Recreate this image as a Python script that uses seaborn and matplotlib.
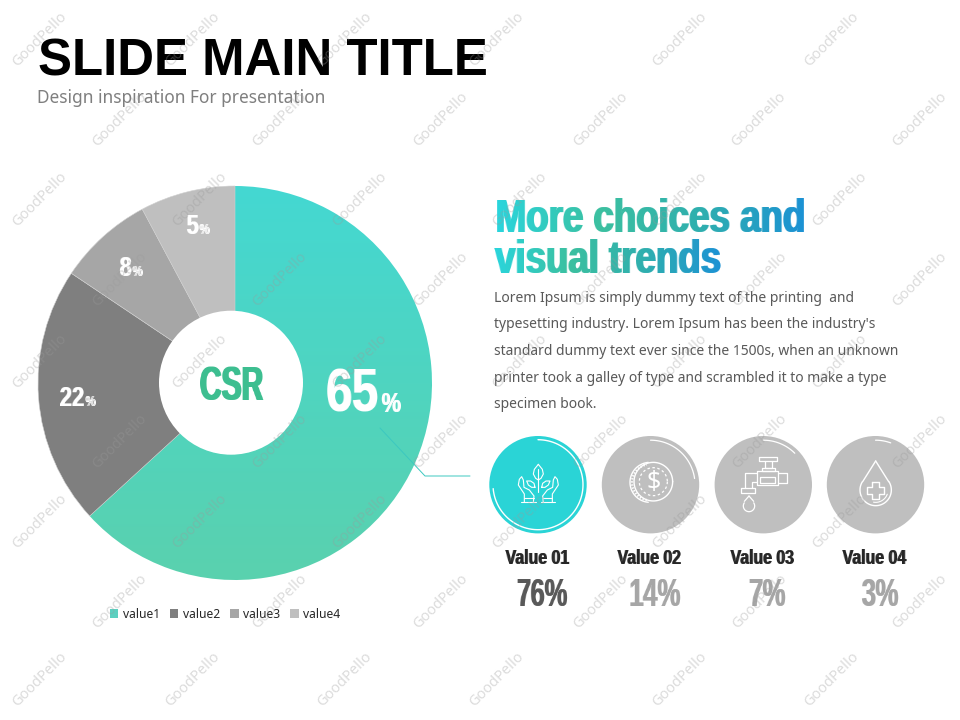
import numpy as np
import matplotlib
matplotlib.use("Agg")
import matplotlib.pyplot as plt
from matplotlib.patches import Circle, Patch
import seaborn as sns

sns.set_theme(style="white")
plt.rcParams['font.family'] = ['Noto Sans', 'DejaVu Sans']
HEAVY = ['Liberation Sans', 'DejaVu Sans']

pie_names = ["value1", "value2", "value3", "value4"]
pie_shares = [63.2, 21.2, 7.8, 7.8]
pie_labels = ["65", "22", "8", "5"]
pie_colors = ["#4FD6C6", "#7F7F7F", "#A6A6A6", "#BFBFBF"]
icon_names = ["Value 01", "Value 02", "Value 03", "Value 04"]
icon_values = ["76%", "14%", "7%", "3%"]
body_lines = [
    "Lorem Ipsum is simply dummy text of the printing  and",
    "typesetting industry. Lorem Ipsum has been the industry's",
    "standard dummy text ever since the 1500s, when an unknown",
    "printer took a galley of type and scrambled it to make a type",
    "specimen book.",
]


def hex_rgb(c):
    return np.array(matplotlib.colors.to_rgb(c))


def vertical_gradient(top, bottom):
    a, b = hex_rgb(top), hex_rgb(bottom)

    def f(img, dpi):
        out = img.copy()
        t = np.linspace(0, 1, img.shape[0])[:, None, None]
        out[..., :3] = a * (1 - t) + b * t
        return out, 0, 0
    return f


def condensed(scale, anchor="left", color="#000000", stops=None, grow=1):
    """Condense rendered text horizontally and thicken it (heavy display look)."""
    base = hex_rgb(color)
    cols = None if stops is None else np.array([hex_rgb(c) for c in stops])

    def f(img, dpi):
        h, w = img.shape[:2]
        w2 = max(1, int(round(w * scale)))
        xs = np.linspace(0, w - 1, w2)
        i0 = np.floor(xs).astype(int)
        i1 = np.minimum(i0 + 1, w - 1)
        fr = (xs - i0)[None, :]
        a = img[:, i0, 3] * (1 - fr) + img[:, i1, 3] * fr
        pad = np.zeros((h, w2 + grow))
        pad[:, :w2] = a
        for g in range(1, grow + 1):
            shifted = np.zeros_like(pad)
            shifted[:, g:g + w2] = a
            pad = np.maximum(pad, shifted)
        out = np.zeros((h, w2 + grow, 4))
        out[..., 3] = pad
        if cols is None:
            out[..., :3] = base
        else:
            x = np.linspace(0, 1, w2 + grow)
            p = np.linspace(0, 1, len(cols))
            for k in range(3):
                out[..., k] = np.interp(x, p, cols[:, k])[None, :]
        ox = {"left": 0, "right": w - w2 - grow, "center": (w - w2 - grow) // 2}[anchor]
        return out, ox, 0
    return f


def heavy(x, y, s, size, scale, color="#000000", ha="left", stops=None, grow=1):
    t = ax.text(x, y, s, fontsize=size, fontweight="bold", family=HEAVY, color=color,
                ha=ha, va="baseline")
    t.set_agg_filter(condensed(scale, anchor=ha, color=color, stops=stops, grow=grow))
    return t


fig = plt.figure(figsize=(9.6, 7.2), dpi=100, facecolor="white")

# pie
cx, cy, R = 235, 383, 197
pie_ax = fig.add_axes([(cx - R) / 960, 1 - (cy + R) / 720, 2 * R / 960, 2 * R / 720])
wedges, _ = pie_ax.pie(pie_shares, colors=pie_colors, startangle=90, counterclock=False,
                       radius=1, wedgeprops=dict(linewidth=0))
pie_ax.set_xlim(-1, 1)
pie_ax.set_ylim(-1, 1)
wedges[0].set_agg_filter(vertical_gradient("#44D8D2", "#5AD1AE"))
for w in wedges[1:]:
    w.set_edgecolor("#D0D0D0")
    w.set_linewidth(0.4)

# pixel overlay
ax = fig.add_axes([0, 0, 1, 1], zorder=5)
ax.set_xlim(0, 960)
ax.set_ylim(720, 0)
ax.axis("off")
ax.patch.set_alpha(0)

ax.add_patch(Circle((231, 382.7), 72, fc="white", ec="none"))

ax.text(38, 76, "SLIDE MAIN TITLE", fontsize=36.7, fontweight="bold", family=HEAVY, color="black", va="baseline")
ax.text(37, 98, "Design inspiration For presentation", fontsize=12.45, color="#7F7F7F", va="center")

stops = ["#2AD5DC", "#3CC0A0", "#2FAFAF", "#1C92D4"]
heavy(494, 232, "More choices and", 34, 0.775, stops=stops, grow=2)
heavy(494, 273, "visual trends", 34, 0.775, stops=stops, grow=2)

for y, s in zip([298.5, 325, 351.5, 378, 404], body_lines):
    ax.text(494, y, s, fontsize=10, color="#595959", va="center")

# pie labels
heavy(231, 399.5, "CSR", 35, 0.62, color="#3DBE90", ha="center", grow=2)
label_pos = [(380, 412, 44, 20), (85, 406, 20, 10), (132, 276, 20, 10), (199, 234, 20, 10)]
for lab, (x, y, fs, ps) in zip(pie_labels, label_pos):
    heavy(x, y, lab, fs, 0.78, color="#FFFFFF", ha="right")
    heavy(x, y, "%", ps, 0.8, color="#FFFFFF", ha="left")

# callout
ax.plot([380, 425, 470], [428, 476, 476], color="#3CC8C0", lw=0.7)

# legend
handles = [Patch(color=c, lw=0) for c in ["#5CD0C0", "#7F7F7F", "#A6A6A6", "#BFBFBF"]]
leg = ax.legend(handles, pie_names, ncol=4, frameon=False, loc="center",
                bbox_to_anchor=(225 / 960, 1 - 614 / 720), bbox_transform=fig.transFigure, fontsize=8.7,
                handlelength=0.7, handleheight=0.7, handletextpad=0.35, columnspacing=0.85,
                labelcolor="#262626")

# icon discs
centers = [538, 650.5, 763.3, 875.5]
disc_cols = ["#2AD4D6", "#BFBFBF", "#BFBFBF", "#BFBFBF"]
ICY = 484.7
for c, col in zip(centers, disc_cols):
    ax.add_patch(Circle((c, ICY), 48.7, fc=col, ec="none"))


def arc(x, y, r, a0, a1, lw=1.0, **kw):
    t = np.radians(np.linspace(a0, a1, 80))
    ax.plot(x + r * np.cos(t), y + r * np.sin(t), color="white", lw=lw,
            solid_capstyle="round", **kw)


def poly(ox, pts, lw=0.9, close=False, oy=430):
    """Line-art polyline; points are given in 3x units from the icon block's corner."""
    p = np.array(pts, dtype=float)
    if close:
        p = np.vstack([p, p[:1]])
    ax.plot(ox + p[:, 0] / 3, oy + p[:, 1] / 3, color="white", lw=lw,
            solid_joinstyle="round", solid_capstyle="round")


# ring highlights
arc(centers[0], ICY, 45, -90, 175, lw=1.0)
arc(centers[1], ICY, 44.5, -90, -8, lw=0.9)
arc(centers[2], ICY, 44.5, -90, -45, lw=0.9)
arc(centers[3], ICY, 44.5, -90, -70, lw=0.9)

# icon 1: hands and plant
L = 480
poly(L, [(175, 103), (187, 118), (190, 132), (183, 145), (175, 150), (167, 145), (160, 132), (163, 118)], close=True, lw=0.8)
poly(L, [(175, 118), (175, 185)], lw=0.8)
for sg in (-1, 1):
    mx = lambda pts: [(175 + sg * (175 - a), b) for a, b in pts]
    poly(L, mx([(165, 172), (155, 172), (145, 165), (140, 153), (152, 153), (162, 160), (165, 172)]), close=True, lw=0.8)
    poly(L, mx([(160, 217), (162, 198), (148, 180), (132, 172), (130, 150), (125, 140), (118, 148),
                (115, 165), (133, 192), (133, 217)]), lw=0.8)
    poly(L, mx([(124, 217), (168, 217)]), lw=0.8)
    poly(L, mx([(133, 205), (161, 205)]), lw=0.8)

# icon 2: coin
arc(480 + 520 / 3, 430 + 155 / 3, 19.3, 0, 360, lw=1.0)
arc(480 + 510 / 3, 430 + 157 / 3, 20, 95, 265, lw=1.0)
arc(480 + 510 / 3, 430 + 157 / 3, 18, 100, 260, lw=1.6, linestyle=(0, (0.6, 0.8)))
arc(480 + 520 / 3, 430 + 155 / 3, 14, 0, 360, lw=0.9, linestyle=(0, (2, 2)))
ax.text(480 + 520 / 3, 430 + 158 / 3, "$", fontsize=18, color="white", ha="center", va="center")

# icon 3: faucet
F = 710
poly(F, [(148, 80), (200, 80), (200, 93), (148, 93)], close=True)
poly(F, [(165, 93), (165, 115), (185, 115), (185, 93)])
poly(F, [(155, 115), (195, 115), (195, 122), (155, 122)], close=True)
poly(F, [(140, 122), (205, 122), (205, 165), (140, 165)], close=True)
poly(F, [(150, 140), (195, 140), (195, 158), (150, 158)], close=True)
poly(F, [(205, 128), (232, 128), (232, 160), (205, 160)])
poly(F, [(140, 128), (105, 128), (105, 175)])
poly(F, [(140, 155), (125, 155), (125, 175)])
poly(F, [(92, 175), (135, 175), (135, 188), (92, 188)], close=True)
poly(F, [(117, 198), (103, 214)])
poly(F, [(117, 198), (131, 214)])
arc(F + 117 / 3, 430 + 228 / 3, 17 / 3, -34, 214, lw=0.9)

# icon 4: drop with cross
poly(F, [(497, 93), (536, 155)], lw=1.0)
poly(F, [(497, 93), (458, 155)], lw=1.0)
arc(F + 497 / 3, 430 + 180 / 3, 47 / 3, -32, 212, lw=1.0)
arc(F + 497 / 3, 430 + 180 / 3, 37 / 3, 20, 100, lw=0.8)
xc, yc, a, b = 497, 182, 25, 10
poly(F, [(xc - b, yc - a), (xc + b, yc - a), (xc + b, yc - b), (xc + a, yc - b), (xc + a, yc + b), (xc + b, yc + b),
         (xc + b, yc + a), (xc - b, yc + a), (xc - b, yc + b), (xc - a, yc + b), (xc - a, yc - b), (xc - b, yc - b)],
     close=True, lw=1.0)

# icon captions
val_cols = ["#595959", "#A6A6A6", "#A6A6A6", "#A6A6A6"]
name_x = [538, 650, 763, 875]
val_x = [541.5, 655, 767.5, 880]
for xn, xv, n, v, col in zip(name_x, val_x, icon_names, icon_values, val_cols):
    heavy(xn, 564, n, 15, 0.76, color="#262626", ha="center")
    heavy(xv, 606.5, v, 27, 0.69, color=col, ha="center")

# watermark
rows = {
    40: [40, 193, 345, 497, 680, 832],
    120: [120, 280, 441, 601, 759, 920],
    200: [40, 200, 360, 520, 680, 840],
    280: [120, 280, 441, 601, 760, 920],
    362: [40, 200, 360, 520, 680, 840],
    442: [120, 280, 441, 601, 760, 920],
    522: [40, 200, 360, 520, 680, 840],
    602: [120, 280, 441, 601, 760, 920],
    680: [40, 193, 345, 497, 680, 832],
}
for y, xs in rows.items():
    for x in xs:
        ax.text(x, y, "GoodPello", fontsize=10.5, color="#9A9A9A", alpha=0.35, rotation=45,
                ha="center", va="center", rotation_mode="anchor", zorder=20)

fig.savefig("out.png", dpi=100)
